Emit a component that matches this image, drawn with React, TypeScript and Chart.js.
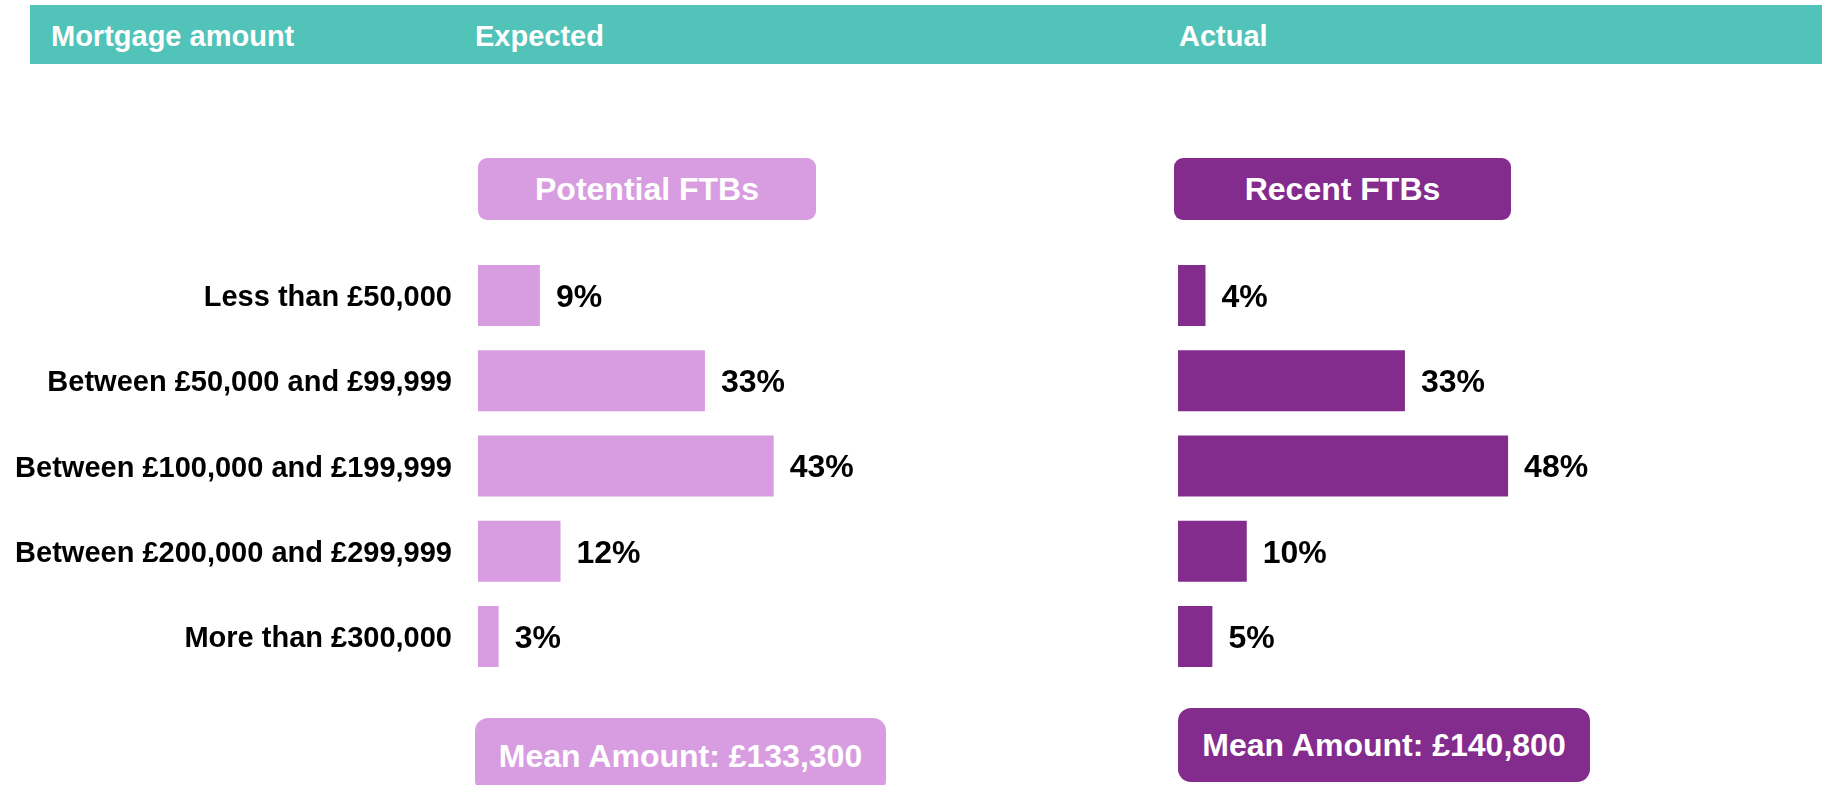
import React, { useEffect, useRef } from "react";
import { Chart, registerables } from "chart.js";

Chart.register(...registerables);

// ---- data ----
const categories = [
  "Less than £50,000",
  "Between £50,000 and £99,999",
  "Between £100,000 and £199,999",
  "Between £200,000 and £299,999",
  "More than £300,000",
];
const potentialFTBs = [9, 33, 43, 12, 3];
const recentFTBs = [4, 33, 48, 10, 5];
const headerLabels = ["Mortgage amount", "Expected", "Actual"];
const panelTitles = ["Potential FTBs", "Recent FTBs"];
const meanLabels = ["Mean Amount: £133,300", "Mean Amount: £140,800"];
const xMax = 65;

const FONT = "'Liberation Sans', Arial, Helvetica, sans-serif";
const TEAL = "#52C3B8";
const LIGHT = "#D89DE0";
const DARK = "#832C8E";

const valueLabelPlugin = {
  id: "valueLabels",
  afterDatasetsDraw(chart: any, _args: any, opts: any) {
    const ctx = chart.ctx;
    const meta = chart.getDatasetMeta(0);
    const values = chart.data.datasets[0].data as number[];
    ctx.save();
    ctx.font = `bold 32px ${FONT}`;
    ctx.fillStyle = "#000000";
    ctx.textAlign = "left";
    ctx.textBaseline = "middle";
    meta.data.forEach((bar: any, i: number) => {
      ctx.fillText(`${values[i]}%`, bar.x + 16, bar.y + 2.5);
    });
    if (opts && opts.showCategories) {
      const yScale = chart.scales.y;
      ctx.font = `bold 29px ${FONT}`;
      ctx.textAlign = "right";
      const labels = chart.data.labels as string[];
      labels.forEach((lab: string, i: number) => {
        ctx.fillText(lab, chart.chartArea.left - 26, yScale.getPixelForValue(i) + 2.5);
      });
    }
    ctx.restore();
  },
};

const PLOT_W = 447;
const LABEL_W = 478;
const RIGHT_PAD = 110;

function BarPanel(props: {
  values: number[];
  color: string;
  showLabels: boolean;
  left: number;
}) {
  const { values, color, showLabels, left } = props;
  const ref = useRef<HTMLCanvasElement>(null);
  const yW = showLabels ? LABEL_W : 0;
  const width = yW + PLOT_W + RIGHT_PAD;
  useEffect(() => {
    const chart = new Chart(ref.current as HTMLCanvasElement, {
      type: "bar",
      data: {
        labels: categories,
        datasets: [
          {
            data: values,
            backgroundColor: color,
            borderWidth: 0,
            categoryPercentage: 1,
            barPercentage: 0.716,
          },
        ],
      },
      options: {
        indexAxis: "y",
        responsive: false,
        animation: false,
        layout: { padding: { left: yW, top: 0, bottom: 0, right: RIGHT_PAD } },
        plugins: {
          legend: { display: false },
          tooltip: { enabled: false },
          valueLabels: { showCategories: showLabels },
        },
        scales: {
          x: { display: false, min: 0, max: xMax },
          y: { display: false },
        },
      } as any,
      plugins: [valueLabelPlugin],
    });
    return () => chart.destroy();
  }, []);
  return (
    <canvas
      ref={ref}
      width={width}
      height={426}
      style={{ position: "absolute", left, top: 253, width, height: 426 }}
    />
  );
}

function Box(props: {
  text: string;
  left: number;
  top: number;
  width: number;
  height: number;
  bg: string;
  radius: number;
}) {
  const { text, left, top, width, height, bg, radius } = props;
  return (
    <div
      style={{
        position: "absolute",
        left,
        top,
        width,
        height,
        background: bg,
        borderRadius: radius,
        display: "flex",
        alignItems: "center",
        justifyContent: "center",
        color: "#ffffff",
        fontWeight: "bold",
        fontSize: 32,
        lineHeight: 1,
        whiteSpace: "nowrap",
      }}
    >
      {text}
    </div>
  );
}

export default function App() {
  const headerX = [51, 475, 1179];
  return (
    <div
      style={{
        position: "absolute",
        left: 0,
        top: 0,
        width: 1822,
        height: 785,
        overflow: "hidden",
        background: "#ffffff",
        fontFamily: FONT,
      }}
    >
      <div
        style={{
          position: "absolute",
          left: 30,
          top: 5,
          width: 1792,
          height: 59,
          background: TEAL,
        }}
      />
      {headerLabels.map((t, i) => (
        <div
          key={t}
          style={{
            position: "absolute",
            left: headerX[i],
            top: 22,
            color: "#ffffff",
            fontWeight: "bold",
            fontSize: 29,
            lineHeight: 1,
            whiteSpace: "nowrap",
          }}
        >
          {t}
        </div>
      ))}
      <Box text={panelTitles[0]} left={478} top={158} width={338} height={62} bg={LIGHT} radius={9} />
      <Box text={panelTitles[1]} left={1174} top={158} width={337} height={62} bg={DARK} radius={9} />
      <BarPanel values={potentialFTBs} color={LIGHT} showLabels={true} left={0} />
      <BarPanel values={recentFTBs} color={DARK} showLabels={false} left={1178} />
      <Box text={meanLabels[0]} left={475} top={718} width={411} height={75} bg={LIGHT} radius={13} />
      <Box text={meanLabels[1]} left={1178} top={708} width={412} height={74} bg={DARK} radius={13} />
    </div>
  );
}
